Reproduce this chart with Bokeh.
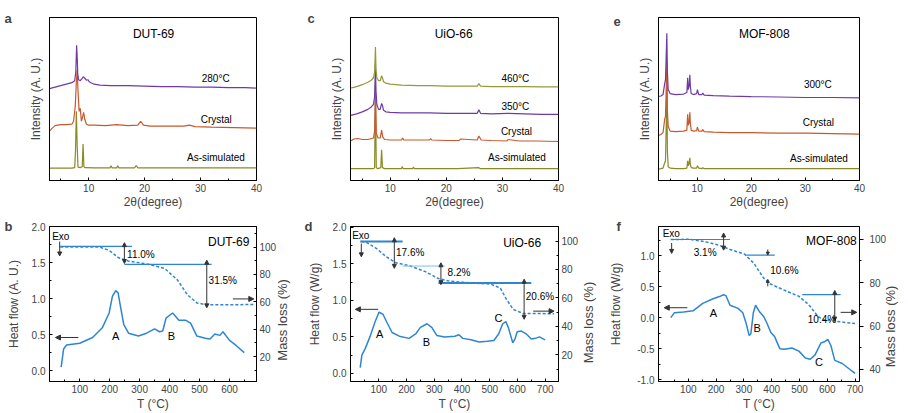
import math
from bokeh.plotting import figure
from bokeh.layouts import gridplot
from bokeh.models import (Range1d, LinearAxis, FixedTicker, PrintfTickFormatter,
                          Label, Arrow, NormalHead)
from bokeh.embed import file_html
from bokeh.resources import INLINE

FONT = "Liberation Sans"
PURPLE = "#6e3aa6"
ORANGE = "#c8592e"
OLIVE = "#8a8a26"
OLIVE2 = "#97983a"
BLUE = "#2e86d2"
LBLUE = "#86bde8"
GREY = "#333333"

# ---------------- XRD data (2theta, stacked intensity a.u.) ----------------
d69_x280 = [3, 4, 5, 6, 7, 7.5, 7.7, 7.85, 7.95, 8.05, 8.2, 8.5, 8.8, 9.05, 9.3, 9.6, 9.9, 10.1, 10.4, 11, 12, 14, 17, 20, 23, 26, 29, 32, 35, 38, 40]
d69_y280 = [93, 94.5, 96, 97.5, 99, 101, 110, 137, 125, 108, 102, 101, 103, 105, 103.5, 101.5, 102, 100, 99, 97.5, 96.5, 96, 96, 95.5, 95, 95, 94.5, 94.5, 94, 94, 93.5]
d69_xcry = [3, 3.5, 4, 5, 6, 7, 7.3, 7.6, 7.8, 7.95, 8.1, 8.3, 8.5, 8.7, 8.9, 9.1, 9.3, 9.6, 10, 11, 13, 15, 17, 18.8, 19.3, 19.8, 21, 24, 27, 28, 29, 32, 36, 40]
d69_ycry = [50, 53, 55.5, 56.5, 56.5, 57, 60, 75, 100, 112, 90, 70, 73, 60, 64, 69, 62, 57, 56, 56, 55.5, 56.5, 55.5, 56, 60, 56, 55, 55, 55, 56, 54.5, 54, 53.5, 53]
d69_xsim = [3, 5, 7, 7.5, 7.65, 7.8, 7.95, 8.1, 8.5, 8.85, 9.0, 9.15, 9.4, 11, 13.8, 14, 14.2, 15, 15.2, 15.4, 18.2, 18.5, 18.8, 22, 26, 30, 34, 40]
d69_ysim = [12.5, 12.5, 12.6, 13, 30, 70, 35, 13.5, 13, 14, 37, 14, 13, 12.8, 12.8, 15, 12.8, 12.8, 15, 12.8, 12.8, 15, 12.8, 12.8, 12.8, 12.8, 12.8, 12.7]

u66_x = [2.9, 4, 5, 6, 6.6, 7.0, 7.2, 7.35, 7.45, 7.6, 7.9, 8.2, 8.45, 8.6, 8.8, 9.2, 10, 12, 15, 17, 20, 22.5, 25.5, 25.8, 26.1, 28, 31, 34, 37, 40]
u66_y460 = [93.5, 95, 97, 99.5, 101.5, 104, 110, 135, 112, 104, 101, 101, 106, 104, 100, 98.5, 97.5, 96.5, 96, 96, 95.5, 95.5, 95.5, 98, 95.5, 95, 95, 95, 94.7, 94.7]
u66_y350 = [66, 67.5, 69.5, 72, 74.5, 77, 85, 118, 90, 77, 72, 72, 78, 76, 71, 69.5, 69, 68.5, 68.5, 68.5, 68, 68, 68, 71.5, 68, 67.5, 68, 67.5, 67, 67]
u66_xcry = [2.9, 3.5, 4.2, 5, 6, 7, 7.2, 7.35, 7.5, 7.8, 8.2, 8.45, 8.65, 9, 10, 12, 12.2, 12.4, 15, 17, 17.2, 17.4, 20, 22.3, 22.5, 25.5, 25.8, 26.2, 28, 30.8, 31, 33, 36, 40]
u66_ycry = [40, 42, 42.5, 41.5, 41.5, 43, 50, 88, 48, 43, 43, 51, 44, 41.5, 41, 41, 43, 41, 41, 41, 42.5, 41, 40.5, 40.5, 42, 41, 45, 41, 40.5, 40, 41.5, 40, 40, 39.5]
u66_xsim = [2.9, 5, 7, 7.2, 7.35, 7.5, 7.8, 8.3, 8.45, 8.6, 9, 12, 12.1, 12.3, 14, 14.1, 14.3, 17, 22, 25.8, 26, 30, 35, 40]
u66_ysim = [12, 12, 12, 13, 95, 13, 12, 13, 31, 13, 12, 12, 14, 12, 12, 13.5, 12, 12, 12, 13, 12, 12, 12, 12]

m808_x = [2.86, 3.3, 3.7, 4.0, 4.15, 4.3, 4.4, 4.5, 4.65, 5, 6, 7.5, 8.1, 8.25, 8.35, 8.5, 8.65, 8.75, 8.9, 9.3, 9.9, 10.05, 10.3, 10.9, 11.05, 11.3, 13, 16, 20, 25, 30, 35, 40]
m808_y300 = [85, 85.5, 87, 98, 102, 130, 149, 110, 92, 88, 87, 87.5, 89, 104, 92, 95, 107, 95, 88, 87, 88, 92, 87, 87, 88.5, 86.5, 86, 85.5, 85, 84.5, 84, 84, 83.7]
m808_ycry = [45.5, 46.5, 48.5, 62, 65, 95, 120, 70, 55, 50, 49.5, 50, 51, 67, 56, 58, 69, 58, 51, 50, 50.5, 54, 50, 50, 51.5, 49.5, 49, 48.5, 48.5, 48, 48, 47.5, 47]
m808_ysim = [11.5, 12, 12.5, 18, 20, 60, 95, 30, 14, 12.5, 12, 12, 12.5, 20, 15, 17, 23, 16, 13, 12.5, 12.5, 15, 12.5, 12, 13, 12, 12, 12, 12, 12, 12, 12, 12]

# ---------------- DSC / TGA data ----------------
b_dsc_T = [38, 46, 56, 100, 143, 176, 198, 209, 220, 228, 236, 247, 263, 296, 323, 350, 366, 377, 388, 410, 431, 453, 470, 491, 519, 535, 551, 568, 578, 600, 622, 649]
b_dsc_H = [0.05, 0.30, 0.356, 0.38, 0.46, 0.60, 0.80, 1.03, 1.11, 1.08, 0.89, 0.64, 0.52, 0.48, 0.52, 0.58, 0.54, 0.55, 0.73, 0.80, 0.70, 0.70, 0.66, 0.48, 0.45, 0.44, 0.51, 0.49, 0.54, 0.42, 0.35, 0.25]
b_tga_T = [35, 165, 198, 228, 263, 328, 383, 426, 459, 491, 524, 681]
b_tga_M = [100, 100, 97.6, 92.4, 89.7, 87.5, 84.4, 76, 65.2, 59.2, 57.8, 58]

d_dsc_T = [33, 39, 51, 68, 86, 101, 115, 129, 148, 174, 209, 233, 250, 274, 291, 309, 338, 374, 389, 403, 432, 462, 491, 515, 532, 547, 558, 567, 583, 591, 599, 614, 632, 650, 665, 679, 700]
d_dsc_H = [0.08, 0.25, 0.34, 0.50, 0.70, 0.84, 0.81, 0.70, 0.56, 0.51, 0.48, 0.54, 0.63, 0.68, 0.63, 0.52, 0.50, 0.51, 0.53, 0.48, 0.46, 0.43, 0.44, 0.45, 0.54, 0.68, 0.71, 0.63, 0.42, 0.47, 0.57, 0.58, 0.54, 0.47, 0.48, 0.50, 0.46]
d_tga_T = [37, 56, 92, 127, 162, 209, 268, 315, 350, 409, 503, 538, 561, 585, 620, 732]
d_tga_M = [99.6, 99, 94.7, 88.9, 84.7, 82.7, 78.5, 73.6, 72, 70.9, 69.7, 67, 58.8, 51.9, 49.1, 48.9]

f_dsc_T = [37, 50, 83, 117, 152, 187, 212, 227, 236, 250, 279, 296, 308, 319, 325, 334, 342, 357, 371, 383, 397, 411, 429, 446, 473, 498, 521, 539, 556, 577, 590, 602, 613, 627, 654, 677, 700]
f_dsc_H = [0.0, 0.08, 0.09, 0.11, 0.23, 0.30, 0.34, 0.37, 0.35, 0.20, 0.15, 0.08, -0.09, -0.29, -0.26, 0.08, 0.20, 0.09, 0.02, -0.09, -0.24, -0.31, -0.50, -0.51, -0.49, -0.54, -0.65, -0.67, -0.60, -0.41, -0.39, -0.35, -0.45, -0.69, -0.74, -0.82, -0.90]
f_tga_T = [37, 106, 163, 210, 250, 302, 336, 371, 394, 440, 498, 533, 567, 590, 625, 700]
f_tga_M = [99.9, 100, 98.8, 97.3, 95.3, 93.2, 88.9, 82.1, 79.5, 76.8, 73.7, 69.9, 64.3, 62.8, 62.3, 61.1]


def lab(p, x, y, text, size="10px", align="center", baseline="middle", style="normal",
        rng="default", color="black"):
    p.add_layout(Label(x=x, y=y, text=text, text_font=FONT, text_font_size=size,
                       text_align=align, text_baseline=baseline, text_font_style=style,
                       y_range_name=rng, text_color=color))


def arrow(p, x0, y0, x1, y1, rng="default", both=False, size=4, color=GREY):
    head = NormalHead(size=size, fill_color=color, line_color=color)
    kw = dict(end=head, x_start=x0, y_start=y0, x_end=x1, y_end=y1,
              line_color=color, line_width=1, y_range_name=rng)
    kw["start"] = NormalHead(size=size, fill_color=color, line_color=color) if both else None
    p.add_layout(Arrow(**kw))


def style_axis(ax, tick_in=3, tick_out=0, standoff=3):
    ax.major_tick_in = tick_in
    ax.major_tick_out = tick_out
    ax.minor_tick_in = 2 if tick_in else 0
    ax.minor_tick_out = 0 if tick_in else 2
    ax.major_label_text_font = FONT
    ax.major_label_text_font_size = "10px"
    ax.major_label_standoff = standoff
    ax.axis_line_color = "black"
    ax.major_tick_line_color = "black"
    ax.minor_tick_line_color = "black"
    ax.axis_label_text_font = FONT
    ax.axis_label_text_font_size = "12px"
    ax.axis_label_text_font_style = "normal"


def letter(p, text, offset, standoff):
    p.title.text = text
    p.title.align = "left"
    p.title.offset = offset
    p.title.standoff = standoff
    p.title.vertical_align = "bottom"
    p.title.text_font = FONT
    p.title.text_font_size = "13px"
    p.title.text_font_style = "bold"


def xrd_fig(width, bl, br, x0):
    p = figure(width=width, height=211, x_range=Range1d(x0, 40), y_range=Range1d(0, 165),
               output_backend="svg", toolbar_location=None,
               min_border_left=bl, min_border_right=br, min_border_top=17, min_border_bottom=29)
    p.xgrid.visible = False
    p.ygrid.visible = False
    p.outline_line_color = "black"
    p.outline_line_alpha = 1
    p.xaxis.ticker = FixedTicker(ticks=[10, 20, 30, 40], minor_ticks=[5, 15, 25, 35])
    style_axis(p.xaxis[0])
    p.xaxis.axis_label = "2θ(degree)"
    p.xaxis.axis_label_standoff = 0
    yax = p.yaxis[0]
    yax.ticker = FixedTicker(ticks=[])
    style_axis(yax, tick_in=0, tick_out=0, standoff=0)
    yax.axis_label = "Intensity (A. U.)"
    yax.axis_label_standoff = 7
    return p


def tg_fig(width, bl, br, xr, yl, yr, yt, ymt, rt, rmt, xt, xmt,
           left_label, lstand, rstand, rpos, right_out=False):
    p = figure(width=width, height=202, x_range=Range1d(*xr), y_range=Range1d(*yl),
               output_backend="svg", toolbar_location=None,
               min_border_left=bl, min_border_right=br, min_border_top=15, min_border_bottom=30)
    p.xgrid.visible = False
    p.ygrid.visible = False
    p.outline_line_color = "black"
    p.outline_line_alpha = 1
    p.extra_y_ranges = {"ml": Range1d(*yr)}
    ax = LinearAxis(y_range_name="ml")
    p.add_layout(ax, "right")
    p.xaxis.ticker = FixedTicker(ticks=xt, minor_ticks=xmt)
    style_axis(p.xaxis[0])
    p.xaxis.axis_label = "T (°C)"
    p.xaxis.axis_label_standoff = 1
    yax = p.yaxis[0]
    yax.ticker = FixedTicker(ticks=yt, minor_ticks=ymt)
    yax.formatter = PrintfTickFormatter(format="%.1f")
    style_axis(yax, standoff=4)
    yax.axis_label = left_label
    yax.axis_label_standoff = lstand
    ax.ticker = FixedTicker(ticks=rt, minor_ticks=rmt)
    if right_out:
        style_axis(ax, tick_in=0, tick_out=4, standoff=6)
    else:
        style_axis(ax, standoff=3)
    # second right axis: its single rotated tick label is the axis title (reads bottom-to-top,
    # starting at the tick position)
    ax2 = LinearAxis(y_range_name="ml", ticker=FixedTicker(ticks=[rpos], minor_ticks=[]))
    style_axis(ax2, tick_in=0, tick_out=0, standoff=rstand)
    ax2.axis_line_color = None
    ax2.major_tick_line_color = None
    ax2.minor_tick_line_color = None
    ax2.major_label_overrides = {rpos: "Mass loss (%)"}
    ax2.major_label_orientation = math.pi / 2
    ax2.major_label_text_font_size = "13px"
    p.add_layout(ax2, "right")
    return p


# ---------------- top row ----------------
pa = xrd_fig(300, 49, 39, 3.0)
pa.line(d69_xsim, d69_ysim, color=OLIVE, line_width=1.2)
pa.line(d69_xcry, d69_ycry, color=ORANGE, line_width=1.2)
pa.line(d69_x280, d69_y280, color=PURPLE, line_width=1.2)
lab(pa, 32.7, 103.7, "280°C")
lab(pa, 32.8, 61.7, "Crystal")
lab(pa, 32.75, 23, "As-simulated")
lab(pa, 21.6, 148.2, "DUT-69", size="12px")
letter(pa, "a", -45, -16)

pc = xrd_fig(306, 50, 43, 2.9)
pc.line(u66_xsim, u66_ysim, color=OLIVE, line_width=1.2)
pc.line(u66_xcry, u66_ycry, color=ORANGE, line_width=1.2)
pc.line(u66_x, u66_y350, color=PURPLE, line_width=1.2)
pc.line(u66_x, u66_y460, color=OLIVE2, line_width=1.2)
lab(pc, 32.3, 102.8, "460°C")
lab(pc, 32.3, 75, "350°C")
lab(pc, 32.5, 50, "Crystal")
lab(pc, 32.6, 22.8, "As-simulated")
lab(pc, 21.3, 148.2, "UiO-66", size="12px")
letter(pc, "c", -43, -16)

pe = xrd_fig(302, 49, 40, 2.86)
pe.line(m808_x, m808_ysim, color=OLIVE, line_width=1.2)
pe.line(m808_x, m808_ycry, color=ORANGE, line_width=1.2)
pe.line(m808_x, m808_y300, color=PURPLE, line_width=1.2)
lab(pe, 32.3, 97, "300°C")
lab(pe, 32.4, 58.5, "Crystal")
lab(pe, 32.5, 22, "As-simulated")
lab(pe, 22.4, 148.2, "MOF-808", size="12px")
letter(pe, "e", -45, -16)

# ---------------- bottom row ----------------
pb = tg_fig(300, 49, 39, (-1, 690), (-0.15, 2.0), (1.8, 115),
            [0, 0.5, 1.0, 1.5, 2.0], [0.25, 0.75, 1.25, 1.75],
            [20, 40, 60, 80, 100], [10, 30, 50, 70, 90, 110],
            [100, 200, 300, 400, 500, 600], [50, 150, 250, 350, 450, 550, 650],
            "Heat flow (A. U.)", 8, 3, 17)
pb.line(b_dsc_T, b_dsc_H, color=BLUE, line_width=1.5)
pb.line(b_tga_T, b_tga_M, color=BLUE, line_width=1.5, line_dash="3 2", y_range_name="ml")
pb.line([35, 274], [100.5, 100.5], color=BLUE, line_width=1.2, y_range_name="ml")
pb.line([249, 540], [87.3, 87.3], color=BLUE, line_width=1.2, y_range_name="ml")
arrow(pb, 249, 103.2, 249, 88, rng="ml", both=True)
arrow(pb, 524, 90.4, 524, 55.6, rng="ml", both=True)
lab(pb, 258, 94.6, "11.0%", align="left", rng="ml")
lab(pb, 530, 75.3, "31.5%", align="left", rng="ml")
arrow(pb, 95, 0.46, 19, 0.46, size=5)
arrow(pb, 611, 62.1, 681, 62.1, rng="ml", size=5)
lab(pb, 8, 107.7, "Exo", align="left", rng="ml")
arrow(pb, 33, 104, 33, 93.5, rng="ml")
lab(pb, 220, 0.48, "A", size="11px")
lab(pb, 406, 0.48, "B", size="11px")
lab(pb, 597, 103.4, "DUT-69", size="12px", rng="ml")
letter(pb, "b", -45, -14)

pd = tg_fig(306, 50, 43, (-2, 748), (-0.11, 2.01), (1.25, 110.2),
            [0, 0.5, 1.0, 1.5, 2.0], [0.25, 0.75, 1.25, 1.75],
            [20, 40, 60, 80, 100], [10, 30, 50, 70, 90],
            [100, 200, 300, 400, 500, 600, 700], [50, 150, 250, 350, 450, 550, 650],
            "Heat flow (W/g)", 8, 7, 14)
pd.line(d_dsc_T, d_dsc_H, color=BLUE, line_width=1.5)
pd.line(d_tga_T, d_tga_M, color=BLUE, line_width=1.5, line_dash="3 2", y_range_name="ml")
pd.line([33, 186], [99.6, 99.6], color=BLUE, line_width=2, y_range_name="ml")
pd.line([186, 338], [82.4, 82.4], color=LBLUE, line_width=1, y_range_name="ml")
pd.line([315, 650], [70.4, 70.4], color=BLUE, line_width=2, y_range_name="ml")
arrow(pd, 156, 102.3, 156, 80.8, rng="ml", both=True)
arrow(pd, 324, 84.7, 324, 69.3, rng="ml", both=True)
arrow(pd, 624, 73.2, 624, 45, rng="ml", both=True)
lab(pd, 162, 92, "17.6%", align="left", rng="ml")
lab(pd, 348, 78, "8.2%", align="left", rng="ml")
lab(pd, 630, 60.7, "20.6%", align="left", rng="ml")
arrow(pd, 97.6, 0.877, 15.5, 0.877, size=5)
arrow(pd, 657, 50.7, 732, 50.7, rng="ml", size=5)
lab(pd, 4, 104, "Exo", align="left", rng="ml")
arrow(pd, 37, 98.2, 37, 88.9, rng="ml")
lab(pd, 103.6, 0.54, "A", size="11px")
lab(pd, 271.5, 0.436, "B", size="11px")
lab(pd, 532, 0.765, "C", size="11px")
lab(pd, 617, 98.9, "UiO-66", size="12px", rng="ml")
letter(pd, "d", -46, -14)

pf = tg_fig(302, 48, 45, (-7.3, 716), (-1.03, 1.47), (34.4, 105.9),
            [-1.0, -0.5, 0.0, 0.5, 1.0], [-0.75, -0.25, 0.25, 0.75, 1.25],
            [40, 60, 80, 100], [50, 70, 90],
            [100, 200, 300, 400, 500, 600, 700], [50, 150, 250, 350, 450, 550, 650],
            "Heat flow (W/g)", 11, 1, 41, right_out=True)
pf.line(f_dsc_T, f_dsc_H, color=BLUE, line_width=1.5)
pf.line(f_tga_T, f_tga_M, color=BLUE, line_width=1.5, line_dash="3 2", y_range_name="ml")
pf.line([37, 250], [99.9, 99.9], color=BLUE, line_width=1.2, y_range_name="ml")
pf.line([308, 411], [92.7, 92.7], color=BLUE, line_width=1.2, y_range_name="ml")
pf.line([510, 648], [74.5, 74.5], color=BLUE, line_width=1.2, y_range_name="ml")
arrow(pf, 227, 102.9, 227, 95, rng="ml", both=True)
arrow(pf, 386, 95.3, 386, 92.7, rng="ml", size=3)
arrow(pf, 386, 78.3, 386, 81.5, rng="ml", size=3)
arrow(pf, 627, 76.4, 627, 62.3, rng="ml", both=True)
lab(pf, 160.6, 93.9, "3.1%", rng="ml")
lab(pf, 446, 85.4, "10.6%", rng="ml")
lab(pf, 581, 62.8, "10.4%", rng="ml")
arrow(pf, 96.6, 0.16, 13.5, 0.16, size=5)
arrow(pf, 648, 66.3, 706, 66.3, rng="ml", size=5)
lab(pf, 7.6, 102.6, "Exo", align="left", rng="ml")
arrow(pf, 40, 98.3, 40, 93.5, rng="ml")
lab(pf, 190, 0.08, "A", size="11px")
lab(pf, 348, -0.16, "B", size="11px")
lab(pf, 570, -0.71, "C", size="11px")
lab(pf, 615, 99.2, "MOF-808", size="12px", rng="ml")
letter(pf, "f", -42, -14)

grid = gridplot([[pa, pc, pe], [pb, pd, pf]], toolbar_location=None)

open("out.html", "w").write(file_html(grid, INLINE))
